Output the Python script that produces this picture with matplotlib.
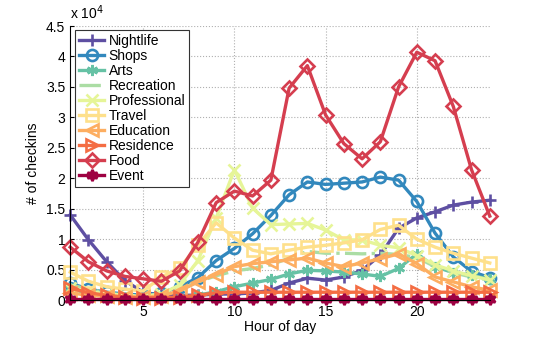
import numpy as np
import matplotlib
matplotlib.use("Agg")
import matplotlib.pyplot as plt

# ========= data (unit: 1e4 checkins) =========
hours = list(range(1, 25))

nightlife = [1.40, 0.99, 0.63, 0.32, 0.13, 0.08, 0.08, 0.08, 0.10, 0.10, 0.12, 0.16,
             0.28, 0.36, 0.33, 0.38, 0.49, 0.74, 1.18, 1.35, 1.45, 1.56, 1.61, 1.64]
shops = [0.28, 0.18, 0.13, 0.10, 0.08, 0.12, 0.22, 0.37, 0.65, 0.85, 1.09, 1.39,
         1.73, 1.94, 1.90, 1.92, 1.94, 2.02, 1.97, 1.62, 1.10, 0.71, 0.47, 0.37]
arts = [0.20, 0.10, 0.06, 0.04, 0.03, 0.03, 0.04, 0.08, 0.14, 0.22, 0.28, 0.34,
        0.43, 0.49, 0.48, 0.46, 0.43, 0.39, 0.52, 0.76, 0.55, 0.45, 0.41, 0.34]
recreation = [0.25, 0.18, 0.12, 0.08, 0.07, 0.10, 0.17, 0.30, 0.40, 0.48, 0.52, 0.58,
              0.69, 0.80, 0.77, 0.77, 0.76, 0.77, 0.75, 0.70, 0.55, 0.45, 0.38, 0.33]
professional = [0.20, 0.15, 0.10, 0.08, 0.06, 0.10, 0.25, 0.65, 1.35, 2.14, 1.51, 1.24,
                1.25, 1.26, 1.15, 0.99, 0.99, 0.90, 0.86, 0.73, 0.58, 0.48, 0.40, 0.33]
travel = [0.46, 0.31, 0.22, 0.18, 0.15, 0.38, 0.53, 0.90, 1.27, 1.02, 0.82, 0.76,
          0.82, 0.87, 0.90, 0.94, 0.99, 1.16, 1.23, 1.00, 0.87, 0.77, 0.69, 0.61]
education = [0.12, 0.08, 0.06, 0.05, 0.05, 0.07, 0.15, 0.30, 0.42, 0.55, 0.60, 0.63,
             0.66, 0.69, 0.61, 0.55, 0.61, 0.68, 0.76, 0.60, 0.38, 0.30, 0.22, 0.16]
residence = [0.20, 0.12, 0.08, 0.05, 0.04, 0.04, 0.05, 0.08, 0.12, 0.13, 0.13, 0.13,
             0.13, 0.13, 0.13, 0.13, 0.13, 0.13, 0.13, 0.13, 0.13, 0.13, 0.13, 0.13]
food = [0.87, 0.63, 0.48, 0.39, 0.35, 0.31, 0.48, 0.95, 1.60, 1.79, 1.71, 1.97,
        3.48, 3.85, 3.04, 2.57, 2.32, 2.60, 3.50, 4.07, 3.93, 3.18, 2.14, 1.38]
event = [0.02] * 24

y_ticks = [0, 0.5, 1, 1.5, 2, 2.5, 3, 3.5, 4, 4.5]
y_tick_labels = ["0", "0.5", "1", "1.5", "2", "2.5", "3", "3.5", "4", "4.5"]
x_ticks = [5, 10, 15, 20]

# name, values, colour, marker, linestyle
series = [
    ("Nightlife", nightlife, "#5e4fa2", "+", "-"),
    ("Shops", shops, "#3288bd", "o", "-"),
    ("Arts", arts, "#66c2a5", (6, 2, 0), "-"),
    ("Recreation", recreation, "#abdda4", "", "-."),
    ("Professional", professional, "#e6f598", "x", "-"),
    ("Travel", travel, "#fee08b", "s", "-"),
    ("Education", education, "#fdae61", "<", "-"),
    ("Residence", residence, "#f46d43", ">", "-"),
    ("Food", food, "#d53e4f", "D", "-"),
    ("Event", event, "#9e0142", (6, 1, 0), "-"),
]

plt.rcParams["font.family"] = ["Liberation Sans", "DejaVu Sans"]
plt.rcParams["font.size"] = 10

fig = plt.figure(figsize=(5.4, 3.38), dpi=100)
ax = fig.add_axes([0.13, 0.112, 0.777, 0.811])

for name, vals, col, mk, ls in series:
    filled = name == "Event"
    ax.plot(hours, vals, color=col, linestyle=ls, linewidth=2.4,
            marker=mk if mk else None, markersize=8 if mk != "D" else 7,
            markeredgewidth=1.9,
            markerfacecolor=col if filled else "none",
            markeredgecolor=col, label=name, clip_on=False)

ax.set_xlim(1, 24)
ax.set_ylim(0, 4.5)
ax.set_xticks(x_ticks)
ax.set_yticks(y_ticks)
ax.set_yticklabels(y_tick_labels)
ax.tick_params(direction="in", length=3, width=0.8)
ax.grid(True, linestyle=":", color="#b0b0b0", linewidth=0.8)
for s in ("top", "right"):
    ax.spines[s].set_visible(False)

ax.set_xlabel("Hour of day", labelpad=1)
ax.set_ylabel("# of checkins")
ax.text(0.0, 1.015, "x 10$^4$", transform=ax.transAxes, ha="left", va="bottom")

leg = ax.legend(loc="upper left", bbox_to_anchor=(0.012, 0.985), borderaxespad=0,
                fancybox=False, edgecolor="#333333", framealpha=1,
                handlelength=1.8, labelspacing=0.07, handletextpad=0.3,
                borderpad=0.3)
leg.get_frame().set_linewidth(0.8)

fig.savefig("out.png", dpi=100)
